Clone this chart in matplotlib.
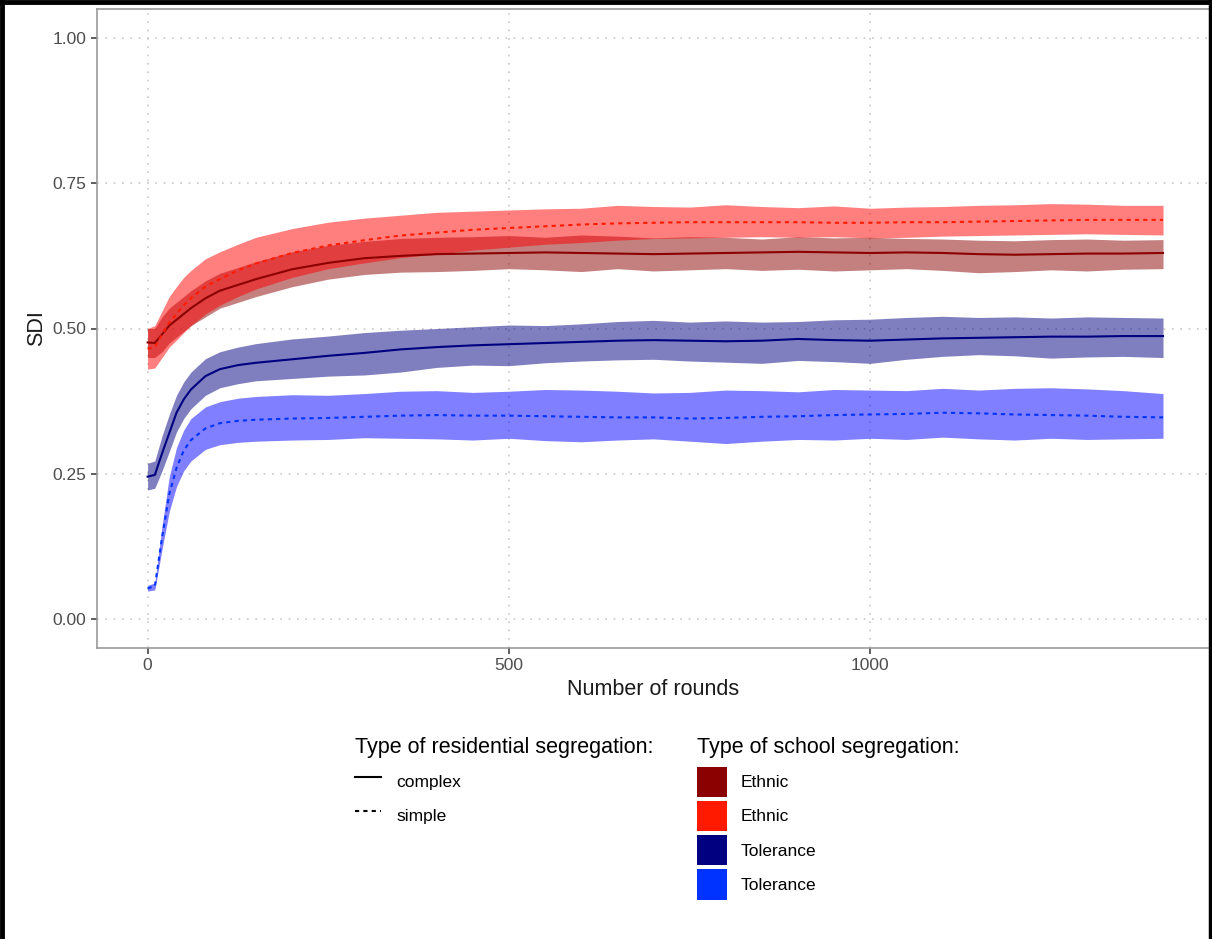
import numpy as np
import matplotlib
matplotlib.use("Agg")
import matplotlib.pyplot as plt
from matplotlib.lines import Line2D
from matplotlib.patches import Patch

plt.rcParams['font.family'] = ['Liberation Sans', 'DejaVu Sans']

rounds = [0, 10, 20, 30, 40, 50, 60, 80, 100, 125, 150, 200, 250, 300, 350, 400, 450,
          500, 550, 600, 650, 700, 750, 800, 850, 900, 950, 1000, 1050, 1100, 1150,
          1200, 1250, 1300, 1350, 1405]

# Ethnic / complex
ec_mean = [0.476, 0.475, 0.490, 0.505, 0.515, 0.525, 0.535, 0.552, 0.565, 0.575, 0.585,
           0.602, 0.613, 0.621, 0.625, 0.628, 0.629, 0.630, 0.631, 0.630, 0.629, 0.628,
           0.629, 0.630, 0.631, 0.632, 0.631, 0.630, 0.631, 0.630, 0.628, 0.627, 0.628,
           0.629, 0.629, 0.630]
ec_low = [0.450, 0.450, 0.460, 0.475, 0.485, 0.495, 0.505, 0.520, 0.535, 0.545, 0.555,
          0.572, 0.585, 0.593, 0.597, 0.598, 0.600, 0.603, 0.601, 0.598, 0.603, 0.599,
          0.601, 0.603, 0.600, 0.602, 0.599, 0.601, 0.603, 0.600, 0.596, 0.598, 0.601,
          0.599, 0.602, 0.603]
ec_high = [0.500, 0.500, 0.520, 0.535, 0.545, 0.555, 0.565, 0.582, 0.595, 0.605, 0.615,
           0.632, 0.643, 0.650, 0.655, 0.657, 0.658, 0.660, 0.657, 0.661, 0.659, 0.656,
           0.658, 0.657, 0.654, 0.658, 0.656, 0.657, 0.655, 0.654, 0.652, 0.651, 0.653,
           0.654, 0.652, 0.653]

# Ethnic / simple
es_mean = [0.465, 0.468, 0.490, 0.510, 0.525, 0.540, 0.552, 0.572, 0.585, 0.600, 0.612,
           0.630, 0.643, 0.652, 0.660, 0.665, 0.670, 0.673, 0.676, 0.679, 0.681, 0.682,
           0.683, 0.683, 0.683, 0.683, 0.682, 0.682, 0.683, 0.683, 0.684, 0.685, 0.686,
           0.687, 0.687, 0.687]
es_low = [0.430, 0.432, 0.450, 0.468, 0.480, 0.493, 0.505, 0.525, 0.540, 0.555, 0.568,
          0.588, 0.603, 0.613, 0.622, 0.628, 0.635, 0.640, 0.645, 0.648, 0.652, 0.655,
          0.656, 0.657, 0.658, 0.657, 0.658, 0.656, 0.657, 0.659, 0.660, 0.661, 0.662,
          0.663, 0.662, 0.661]
es_high = [0.500, 0.505, 0.530, 0.555, 0.572, 0.588, 0.600, 0.620, 0.632, 0.645, 0.657,
           0.672, 0.683, 0.690, 0.695, 0.700, 0.702, 0.704, 0.706, 0.707, 0.712, 0.710,
           0.709, 0.713, 0.710, 0.708, 0.711, 0.707, 0.709, 0.710, 0.712, 0.713, 0.715,
           0.714, 0.712, 0.712]

# Tolerance / complex
tc_mean = [0.245, 0.248, 0.285, 0.320, 0.355, 0.378, 0.395, 0.418, 0.430, 0.437, 0.441,
           0.447, 0.453, 0.458, 0.464, 0.468, 0.471, 0.473, 0.475, 0.477, 0.479, 0.480,
           0.479, 0.478, 0.479, 0.482, 0.480, 0.479, 0.481, 0.483, 0.484, 0.485, 0.486,
           0.486, 0.487, 0.487]
tc_low = [0.222, 0.225, 0.255, 0.288, 0.322, 0.345, 0.362, 0.385, 0.398, 0.405, 0.410,
          0.414, 0.418, 0.420, 0.425, 0.433, 0.437, 0.436, 0.441, 0.444, 0.446, 0.447,
          0.444, 0.442, 0.440, 0.445, 0.443, 0.440, 0.447, 0.452, 0.455, 0.453, 0.449,
          0.451, 0.452, 0.450]
tc_high = [0.268, 0.272, 0.315, 0.352, 0.385, 0.408, 0.425, 0.448, 0.460, 0.468, 0.474,
           0.482, 0.487, 0.493, 0.497, 0.500, 0.503, 0.506, 0.505, 0.508, 0.512, 0.514,
           0.511, 0.513, 0.511, 0.512, 0.515, 0.516, 0.519, 0.521, 0.519, 0.520, 0.518,
           0.520, 0.519, 0.518]

# Tolerance / simple
ts_mean = [0.053, 0.056, 0.140, 0.215, 0.260, 0.290, 0.308, 0.328, 0.337, 0.341, 0.343,
           0.345, 0.346, 0.348, 0.350, 0.351, 0.350, 0.350, 0.349, 0.348, 0.347, 0.347,
           0.345, 0.346, 0.348, 0.349, 0.351, 0.352, 0.353, 0.355, 0.354, 0.352, 0.351,
           0.350, 0.348, 0.347]
ts_low = [0.048, 0.050, 0.120, 0.185, 0.228, 0.255, 0.272, 0.292, 0.300, 0.304, 0.306,
          0.308, 0.309, 0.312, 0.311, 0.310, 0.308, 0.311, 0.307, 0.305, 0.308, 0.310,
          0.306, 0.302, 0.306, 0.309, 0.308, 0.311, 0.309, 0.313, 0.310, 0.308, 0.311,
          0.309, 0.310, 0.311]
ts_high = [0.058, 0.062, 0.160, 0.245, 0.295, 0.325, 0.345, 0.365, 0.374, 0.380, 0.383,
           0.386, 0.385, 0.388, 0.392, 0.393, 0.390, 0.392, 0.395, 0.394, 0.392, 0.389,
           0.390, 0.394, 0.393, 0.391, 0.395, 0.394, 0.393, 0.397, 0.394, 0.397, 0.398,
           0.396, 0.393, 0.388]

school_labels = ['Ethnic', 'Ethnic', 'Tolerance', 'Tolerance']
resid_labels = ['complex', 'simple']
colors = ['#8b0000', '#ff1a00', '#000080', '#0033ff']
band_colors = ['#8b0000', '#ff0000', '#000080', '#0000ff']

series = [(ec_mean, ec_low, ec_high, '-'),
          (es_mean, es_low, es_high, 'simple'),
          (tc_mean, tc_low, tc_high, '-'),
          (ts_mean, ts_low, ts_high, 'simple')]
dotted = (0, (2, 2))

fig = plt.figure(figsize=(12.12, 9.39), dpi=100)
ax = fig.add_axes([97/1212, 1-648/939, (1210-97)/1212, (648-9)/939])

for (m, lo, hi, ls), bc in zip(series, band_colors):
    ax.fill_between(rounds, lo, hi, color=bc, alpha=0.5, lw=0)
for (m, lo, hi, ls), c in zip(series, colors):
    ax.plot(rounds, m, color=c, lw=1.5, ls=dotted if ls == 'simple' else '-')

ax.set_xlim(-70, 1470)
ax.set_ylim(-0.05, 1.05)
ax.set_xticks([0, 500, 1000])
ax.set_yticks([0, 0.25, 0.5, 0.75, 1.0])
ax.set_yticklabels(['0.00', '0.25', '0.50', '0.75', '1.00'])
ax.grid(True, color='#c8c8c8', lw=1.2, ls=(0, (1, 4)))
ax.set_axisbelow(True)
for s in ax.spines.values():
    s.set_color('#999999')
    s.set_linewidth(1.2)
ax.spines['right'].set_visible(False)
ax.tick_params(colors='#333333', length=4.5, width=1.1, labelsize=12.5, labelcolor='#4d4d4d', pad=3)
ax.set_xlabel('Number of rounds', fontsize=15.5, color='#1a1a1a', labelpad=4)
ax.set_ylabel('SDI', fontsize=15.5, color='#1a1a1a', labelpad=4)

# legends
h1 = [Line2D([], [], color='black', lw=1.5, ls='-'),
      Line2D([], [], color='black', lw=1.5, ls=dotted)]
leg1 = fig.legend(h1, resid_labels, title='Type of residential segregation:',
                  loc='upper left', bbox_to_anchor=(346/1212, 1-728/939), frameon=False,
                  fontsize=12.5, title_fontsize=15.5, handlelength=1.5, handleheight=2.3,
                  labelspacing=0.23, handletextpad=0.9, borderpad=0, alignment='left')
h2 = [Patch(facecolor=c, edgecolor='none') for c in colors]
leg2 = fig.legend(h2, school_labels, title='Type of school segregation:',
                  loc='upper left', bbox_to_anchor=(688/1212, 1-728/939), frameon=False,
                  fontsize=12.5, title_fontsize=15.5, handlelength=1.75, handleheight=2.3,
                  labelspacing=0.23, handletextpad=0.8, borderpad=0, alignment='left')
for leg in (leg1, leg2):
    leg._legend_box.sep = 6.5

# outer black frame (left, top, right)
fig.add_artist(Line2D([2/1212, 2/1212], [0, 1], color='black', lw=3.5, transform=fig.transFigure))
fig.add_artist(Line2D([0, 1], [1-2/939, 1-2/939], color='black', lw=3.5, transform=fig.transFigure))
fig.add_artist(Line2D([1210/1212, 1210/1212], [0, 1], color='black', lw=2.5, transform=fig.transFigure))

fig.savefig('out.png', dpi=100)
